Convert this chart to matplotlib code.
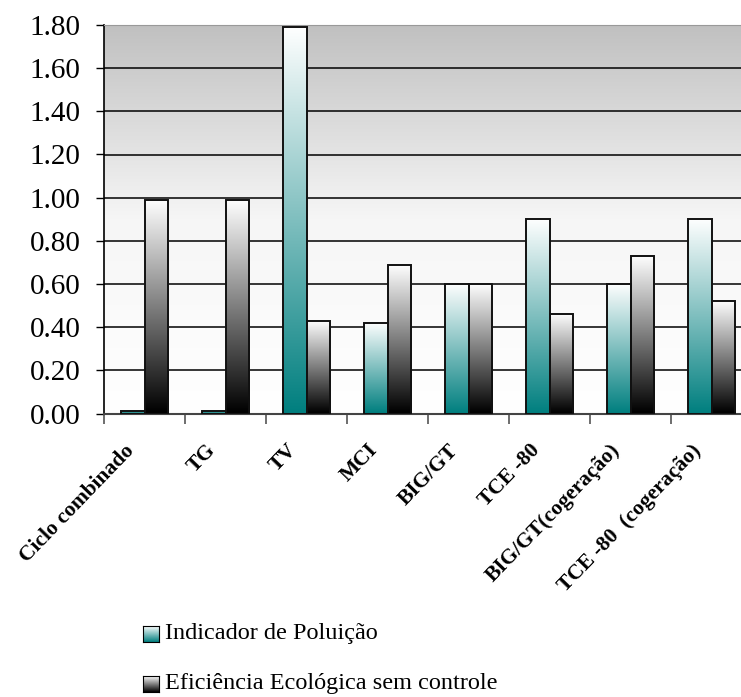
import numpy as np
import matplotlib
matplotlib.use('Agg')
import matplotlib.pyplot as plt
from matplotlib.colors import LinearSegmentedColormap

plt.rcParams['font.family'] = ['Liberation Serif', 'DejaVu Serif']

categories = ['Ciclo combinado', 'TG', 'TV', 'MCI', 'BIG/GT', 'TCE -80',
              'BIG/GT(cogeração)', 'TCE -80  (cogeração)']
indicador_poluicao = [0.01, 0.01, 1.79, 0.42, 0.60, 0.90, 0.60, 0.90]
eficiencia_ecologica = [0.99, 0.99, 0.43, 0.69, 0.60, 0.46, 0.73, 0.52]
series_names = ['Indicador de Poluição', 'Eficiência Ecológica sem controle']

teal_cmap = LinearSegmentedColormap.from_list('teal', ['#007f7f', '#ffffff'])
dark_cmap = LinearSegmentedColormap.from_list('dark', ['#000000', '#7f7f7f', '#ffffff'])
bg_cmap = LinearSegmentedColormap.from_list('bg', ['#ffffff', '#f6f6f6', '#c0c0c0'])

W, H = 741, 697
fig = plt.figure(figsize=(W / 100, H / 100), dpi=100)
ax = fig.add_axes([104 / W, 1 - 413.5 / H, 648 / W, 388.5 / H])

ax.set_xlim(0, len(categories))
ax.set_ylim(0, 1.8)

# background gradient
grad = np.linspace(0, 1, 256).reshape(-1, 1)
ax.imshow(grad, cmap=bg_cmap, origin='lower', aspect='auto',
          extent=[0, len(categories), 0, 1.8], zorder=0)

for y in np.arange(0.2, 1.8, 0.2):
    ax.axhline(y, color='black', lw=1.1, zorder=1)

x = np.arange(len(categories)) + 0.5
bw = 0.29

def gradient_bars(xs, vals, cmap):
    bars = ax.bar(xs, vals, bw, facecolor='none', edgecolor='#111111',
                  linewidth=1.4, zorder=3)
    for b in bars:
        x0, w, h = b.get_x(), b.get_width(), b.get_height()
        ax.imshow(grad, cmap=cmap, origin='lower', aspect='auto',
                  extent=[x0, x0 + w, 0, h], zorder=2)

gradient_bars(x - bw / 2, indicador_poluicao, teal_cmap)
gradient_bars(x + bw / 2, eficiencia_ecologica, dark_cmap)
ax.set_xlim(0, len(categories))
ax.set_ylim(0, 1.8)

ax.set_yticks(np.arange(0, 1.81, 0.2))
ax.set_yticklabels(['%.2f' % v for v in np.arange(0, 1.81, 0.2)], fontsize=21)
ax.tick_params(axis='y', direction='out', length=6, width=1, pad=11)

ax.set_xticks(np.arange(len(categories) + 1))
ax.set_xticklabels([])
ax.tick_params(axis='x', direction='out', length=7, width=1.2, color='#555555')

for xi, lab in zip(x, categories):
    ax.text(xi - 0.25, -0.125, lab, rotation=46, rotation_mode='anchor',
            ha='right', va='top', fontsize=15.5, fontweight='bold')

ax.spines['left'].set_linewidth(1.2)
ax.spines['bottom'].set_color('#444444')
ax.spines['bottom'].set_linewidth(1.5)
ax.spines['top'].set_color('#999999')
ax.spines['right'].set_visible(False)

# legend
for i, (name, cmap) in enumerate(zip(series_names, [teal_cmap, dark_cmap])):
    yc = 634 + 50 * i
    sq = fig.add_axes([143 / W, 1 - (yc + 8) / H, 16 / W, 16 / H])
    sq.imshow(grad, cmap=cmap, origin='lower', aspect='auto')
    sq.set_xticks([])
    sq.set_yticks([])
    for s in sq.spines.values():
        s.set_linewidth(0.8)
    fig.text(165 / W, 1 - yc / H, name, fontsize=17.5, va='center', ha='left')

fig.savefig('out.png', dpi=100)
